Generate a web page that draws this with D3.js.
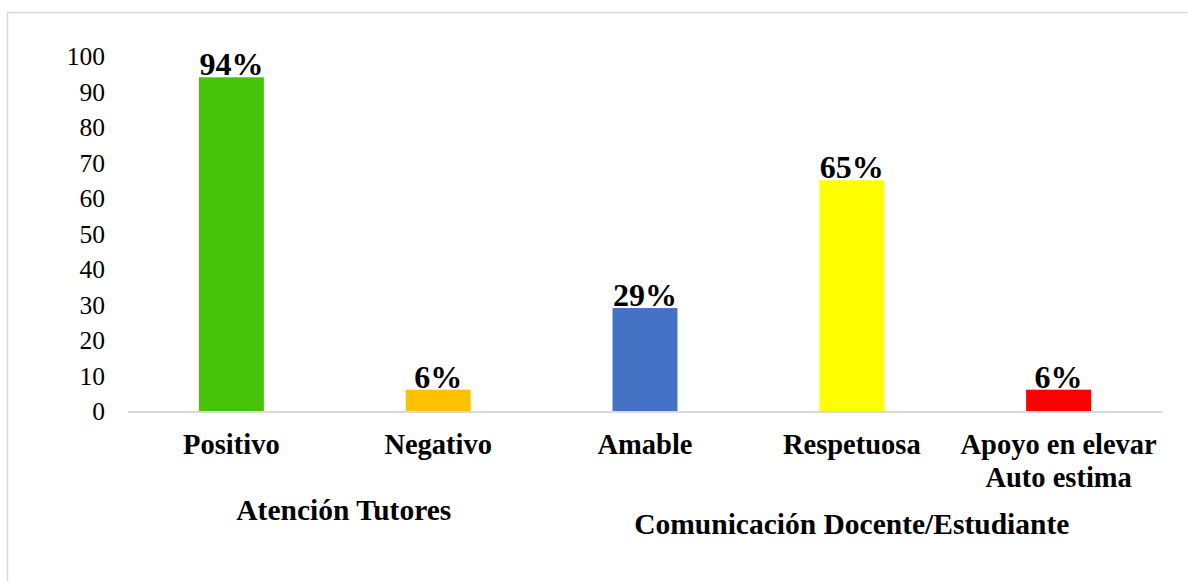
<!DOCTYPE html>
<html>
<head>
<meta charset="utf-8">
<script src="https://cdn.jsdelivr.net/npm/d3@7"></script>
<style>
  body { margin: 0; background: #fff; }
  svg, svg text { font-family: "Liberation Serif", "Times New Roman", serif; }
</style>
</head>
<body>
<svg id="chart"></svg>
<script>
const categories = ["Positivo", "Negativo", "Amable", "Respetuosa", "Apoyo en elevar\nAuto estima"];
const values = [94, 6, 29, 65, 6];
const barColors = ["#46c40a", "#ffc000", "#4472c4", "#ffff00", "#ff0000"];
const yTicks = [0, 10, 20, 30, 40, 50, 60, 70, 80, 90, 100];
const groups = [
  { name: "Atención Tutores", from: 0, to: 1 },
  { name: "Comunicación Docente/Estudiante", from: 2, to: 4 }
];

const width = 1188;
const height = 581;
const plotLeft = 128;
const plotRight = 1162;
const baseY = 411;
const topY = 56;

const svg = d3.select("#chart").attr("width", width).attr("height", height);

// frame (runs off the right and bottom edges like the source)
svg.append("rect")
  .attr("x", 7.5).attr("y", 12.5)
  .attr("width", 1200).attr("height", 600)
  .attr("fill", "none")
  .attr("stroke", "#d9d9d9")
  .attr("stroke-width", 1.5);

const xScale = d3.scaleBand()
  .domain(d3.range(categories.length))
  .range([plotLeft, plotRight])
  .paddingInner(0.686)
  .paddingOuter(0.343);

const yScale = d3.scaleLinear().domain([0, 100]).range([baseY, topY]);

// Y axis labels only
const yAxis = d3.axisLeft(yScale).tickValues(yTicks).tickSize(0).tickPadding(0);
svg.append("g")
  .attr("transform", "translate(105,0)")
  .call(yAxis)
  .attr("font-family", null)
  .attr("font-size", null)
  .call((g) => g.select(".domain").remove())
  .call((g) => g.selectAll("text")
    .style("font-family", "'Liberation Serif', 'Times New Roman', serif")
    .style("font-size", "25.5px")
    .attr("fill", "#000")
    .attr("dy", "0.34em"));

// bars
svg.selectAll(".bar")
  .data(values)
  .enter()
  .append("rect")
  .attr("class", "bar")
  .attr("x", (d, i) => xScale(i))
  .attr("y", (d) => yScale(d))
  .attr("width", xScale.bandwidth())
  .attr("height", (d) => baseY - yScale(d))
  .attr("fill", (d, i) => barColors[i]);

// baseline
svg.append("line")
  .attr("x1", plotLeft).attr("x2", plotRight)
  .attr("y1", baseY + 1).attr("y2", baseY + 1)
  .attr("stroke", "#d9d9d9")
  .attr("stroke-width", 2);

// value labels
svg.selectAll(".val")
  .data(values)
  .enter()
  .append("text")
  .attr("class", "val")
  .attr("x", (d, i) => xScale(i) + xScale.bandwidth() / 2)
  .attr("y", (d) => yScale(d) - 2)
  .attr("text-anchor", "middle")
  .attr("font-size", 32)
  .attr("font-weight", "bold")
  .text((d) => d + "%");

// category labels
const catLabels = svg.selectAll(".cat")
  .data(categories)
  .enter()
  .append("text")
  .attr("class", "cat")
  .attr("text-anchor", "middle")
  .attr("font-size", 28.5)
  .attr("font-weight", "bold")
  .attr("transform", (d, i) => `translate(${xScale(i) + xScale.bandwidth() / 2},454)`);

catLabels.selectAll("tspan")
  .data((d) => d.split("\n"))
  .enter()
  .append("tspan")
  .attr("x", 0)
  .attr("y", (d, i) => i * 33)
  .text((d) => d);

// group labels (first one sits a bit right of its span in the source)
const groupY = [520, 534];
const groupDx = [9, 0];
svg.selectAll(".grp")
  .data(groups)
  .enter()
  .append("text")
  .attr("class", "grp")
  .attr("x", (d, i) => (xScale(d.from) + xScale(d.to) + xScale.bandwidth()) / 2 + groupDx[i])
  .attr("y", (d, i) => groupY[i])
  .attr("text-anchor", "middle")
  .attr("font-size", 29.5)
  .attr("font-weight", "bold")
  .text((d) => d.name);
</script>
</body>
</html>
